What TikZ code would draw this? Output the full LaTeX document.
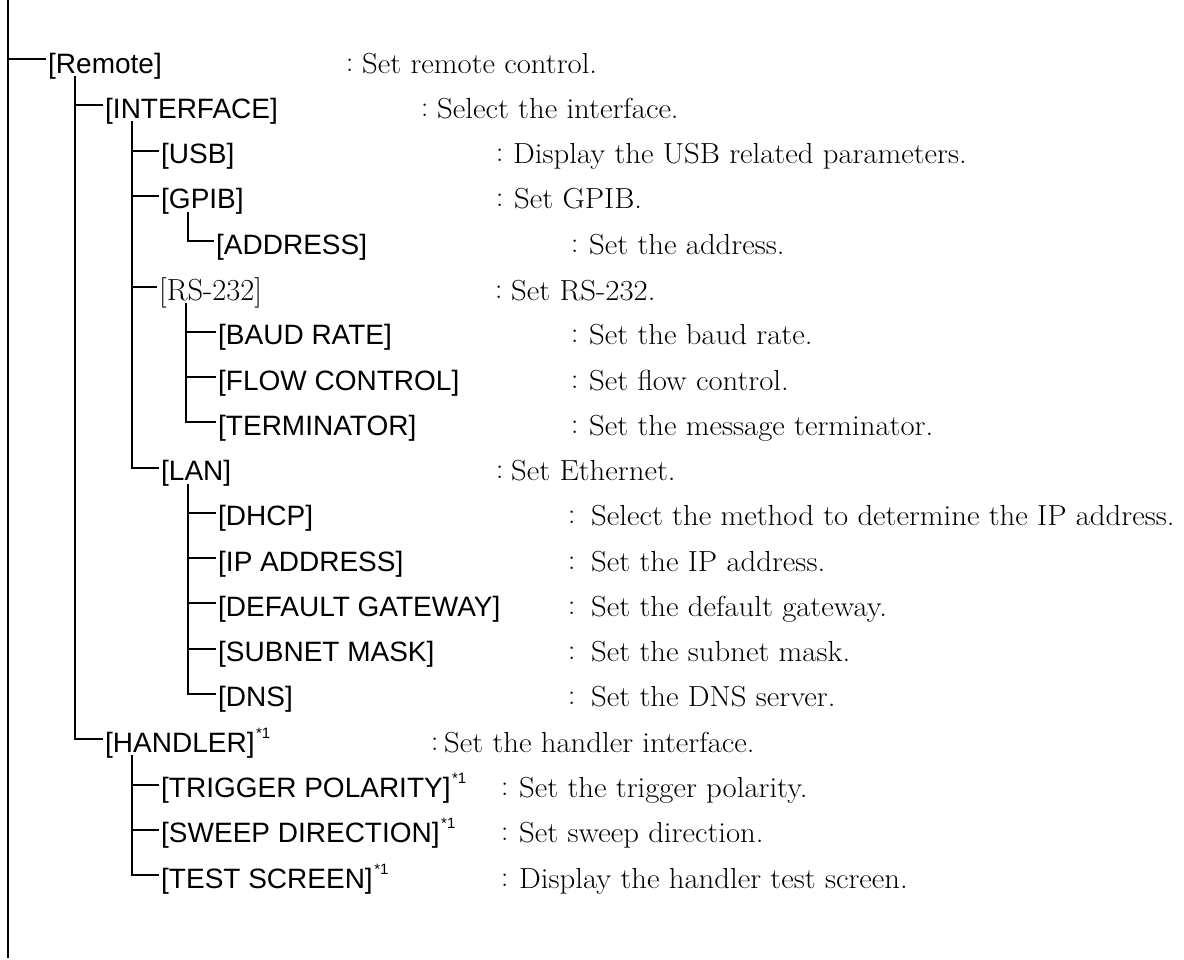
\documentclass[tikz,border=0pt]{standalone}
\usepackage{fontspec}
\newfontfamily\lblsans{Liberation Sans}
\newfontfamily\lblserif{Latin Modern Roman}
\newcommand\lblfont{\lblsans\fontsize{28}{30}\selectfont}
\newcommand\dscfont{\rmfamily\fontsize{29}{30}\selectfont}
\newcommand\wide[1]{\scalebox{1.06}[1]{#1}}
\newcommand\noteone{\hspace{1.5pt}\raisebox{14pt}{\fontsize{15}{15}\selectfont *1}}
\tikzset{
  lbl/.style={anchor=base west, inner sep=0pt, font=\lblfont, text=black},
  serifl/.style={anchor=base west, inner sep=0pt, font=\lblserif\fontsize{30.5}{31}\selectfont, text=black},
  dsc/.style={anchor=base west, inner sep=0pt, font=\dscfont, text=black},
  colonmark/.style={anchor=base west, inner sep=0pt, font=\dscfont, text=black},
  conn/.style={draw=black, line width=2pt, line cap=rect}
}
\newcommand\branch[2]{\draw[conn] ([xshift=27pt,yshift=-4pt]#1.base west) |- ([xshift=-3pt,yshift=13pt]#2.base west);}
\begin{document}
\begin{tikzpicture}[x=1pt,y=-1pt]
\fill[white] (0,0) rectangle (1184,959);
\useasboundingbox (0,0) rectangle (1184,959);
% labels
\node[lbl] (remote)  at (48,73)    {[Remote]};
\node[lbl] (iface)   at (105,118.3) {[INTERFACE]};
\node[lbl] (usb)     at (161,163.6) {[USB]};
\node[lbl] (gpib)    at (161,208.8) {[GPIB]};
\node[lbl] (addr)    at (216,254.1) {[ADDRESS]};
\node[serifl] (rs)   at (159,300) {[RS-232]};
\node[lbl] (baud)    at (218,344.7) {[BAUD RATE]};
\node[lbl] (flow)    at (218,390.0) {[FLOW CONTROL]};
\node[lbl] (term)    at (218,435.2) {[TERMINATOR]};
\node[lbl] (lan)     at (161,480.5) {[LAN]};
\node[lbl] (dhcp)    at (218,525.8) {[DHCP]};
\node[lbl] (ip)      at (218,571.1) {[IP ADDRESS]};
\node[lbl] (gw)      at (218,616.4) {[DEFAULT GATEWAY]};
\node[lbl] (mask)    at (218,661.6) {[SUBNET MASK]};
\node[lbl] (dns)     at (218,706.9) {[DNS]};
\node[lbl] (handler) at (105,752.2) {[HANDLER]\noteone};
\node[lbl] (trig)    at (161,797.5) {[TRIGGER POLARITY]\noteone};
\node[lbl] (sweep)   at (161,842.8) {[SWEEP DIRECTION]\noteone};
\node[lbl] (test)    at (161,888.0) {[TEST SCREEN]\noteone};
% colons
\node[colonmark] (remote-c)  at (346,73)    {\raisebox{2pt}{:}};
\node[colonmark] (iface-c)   at (421,118.3) {\raisebox{2pt}{:}};
\node[colonmark] (usb-c)     at (496,163.6) {\raisebox{2pt}{:}};
\node[colonmark] (gpib-c)    at (496,208.8) {\raisebox{2pt}{:}};
\node[colonmark] (addr-c)    at (571,254.1) {\raisebox{2pt}{:}};
\node[colonmark] (rs-c)      at (495,300) {\raisebox{2pt}{:}};
\node[colonmark] (baud-c)    at (571,344.7) {\raisebox{2pt}{:}};
\node[colonmark] (flow-c)    at (571,390.0) {\raisebox{2pt}{:}};
\node[colonmark] (term-c)    at (571,435.2) {\raisebox{2pt}{:}};
\node[colonmark] (lan-c)     at (496,480.5) {\raisebox{2pt}{:}};
\node[colonmark] (dhcp-c)    at (568,525.8) {\raisebox{2pt}{:}};
\node[colonmark] (ip-c)      at (568,571.1) {\raisebox{2pt}{:}};
\node[colonmark] (gw-c)      at (568,616.4) {\raisebox{2pt}{:}};
\node[colonmark] (mask-c)    at (568,661.6) {\raisebox{2pt}{:}};
\node[colonmark] (dns-c)     at (568,706.9) {\raisebox{2pt}{:}};
\node[colonmark] (handler-c) at (431,752.2) {\raisebox{2pt}{:}};
\node[colonmark] (trig-c)    at (501,797.5) {\raisebox{2pt}{:}};
\node[colonmark] (sweep-c)   at (501,842.8) {\raisebox{2pt}{:}};
\node[colonmark] (test-c)    at (501,888.0) {\raisebox{2pt}{:}};
% descriptions
\node[dsc] (remote-d)  at (362,73)    {\wide{Set remote control.}};
\node[dsc] (iface-d)   at (437,118.3) {\wide{Select the interface.}};
\node[dsc] (usb-d)     at (513,163.6) {\wide{Display the USB related parameters.}};
\node[dsc] (gpib-d)    at (514,208.8) {\wide{Set GPIB.}};
\node[dsc] (addr-d)    at (589,254.1) {\wide{Set the address.}};
\node[dsc] (rs-d)      at (511,300) {\wide{Set RS-232.}};
\node[dsc] (baud-d)    at (589,344.7) {\wide{Set the baud rate.}};
\node[dsc] (flow-d)    at (589,390.0) {\wide{Set flow control.}};
\node[dsc] (term-d)    at (589,435.2) {\wide{Set the message terminator.}};
\node[dsc] (lan-d)     at (511,480.5) {\wide{Set Ethernet.}};
\node[dsc] (dhcp-d)    at (591,525.8) {\wide{Select the method to determine the IP address.}};
\node[dsc] (ip-d)      at (591,571.1) {\wide{Set the IP address.}};
\node[dsc] (gw-d)      at (591,616.4) {\wide{Set the default gateway.}};
\node[dsc] (mask-d)    at (591,661.6) {\wide{Set the subnet mask.}};
\node[dsc] (dns-d)     at (591,706.9) {\wide{Set the DNS server.}};
\node[dsc] (handler-d) at (444,752.2) {\wide{Set the handler interface.}};
\node[dsc] (trig-d)    at (519,797.5) {\wide{Set the trigger polarity.}};
\node[dsc] (sweep-d)   at (519,842.8) {\wide{Set sweep direction.}};
\node[dsc] (test-d)    at (519,888.0) {\wide{Display the handler test screen.}};
% root line
\coordinate (top) at (8,0);
\coordinate (bottom) at (8,957);
\coordinate (rc) at ([xshift=-3pt,yshift=14pt]remote.base west);
\draw[conn] (top) -- (bottom);
\draw[conn] (top |- rc) -- (rc);
% tree connectors
\branch{remote}{iface}
\branch{remote}{handler}
\branch{iface}{usb}
\branch{iface}{gpib}
\branch{iface}{rs}
\branch{iface}{lan}
\branch{gpib}{addr}
\branch{rs}{baud}
\branch{rs}{flow}
\branch{rs}{term}
\branch{lan}{dhcp}
\branch{lan}{ip}
\branch{lan}{gw}
\branch{lan}{mask}
\branch{lan}{dns}
\branch{handler}{trig}
\branch{handler}{sweep}
\branch{handler}{test}
\end{tikzpicture}
\end{document}
